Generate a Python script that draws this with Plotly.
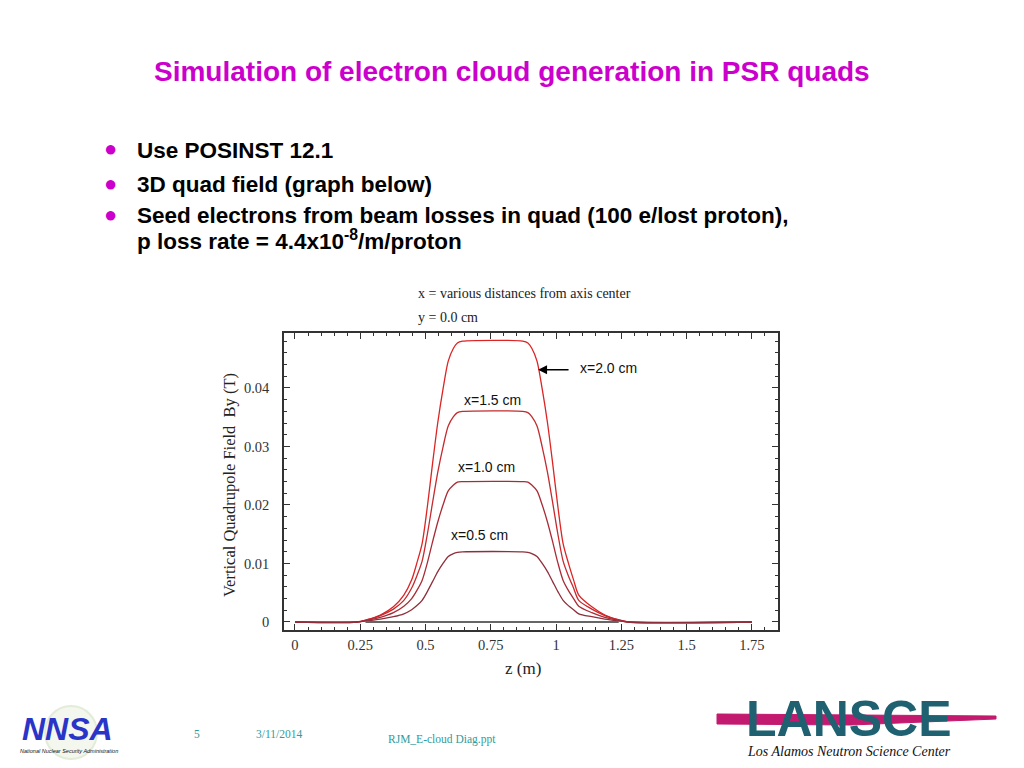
import plotly.graph_objects as go

# ---------------- data ----------------
z = [0.0, 0.237, 0.277, 0.327, 0.377, 0.417, 0.447, 0.467, 0.487, 0.507, 0.527,
     0.547, 0.567, 0.587, 0.607, 0.622, 0.642,
     0.872, 0.892, 0.907, 0.927, 0.947, 0.967, 0.987, 1.007, 1.027, 1.047,
     1.067, 1.087, 1.137, 1.187, 1.237, 1.277, 1.75]

by_x20 = [0.0, 0.0, 0.0004, 0.0012, 0.0026, 0.0046, 0.0072, 0.0101, 0.0134, 0.0197, 0.0271,
          0.0341, 0.0398, 0.0446, 0.0468, 0.0477, 0.0480,
          0.0480, 0.0477, 0.0468, 0.0446, 0.0398, 0.0341, 0.0271, 0.0197, 0.0134, 0.0101,
          0.0072, 0.0046, 0.0026, 0.0012, 0.0004, 0.0, 0.0]
by_x15 = [0.0, 0.0, 0.0004, 0.0011, 0.0022, 0.0037, 0.0058, 0.0079, 0.0104, 0.0150, 0.0204,
          0.0256, 0.0299, 0.0335, 0.0351, 0.0358, 0.0360,
          0.0360, 0.0358, 0.0351, 0.0335, 0.0299, 0.0256, 0.0204, 0.0150, 0.0104, 0.0079,
          0.0058, 0.0037, 0.0022, 0.0011, 0.0004, 0.0, 0.0]
by_x10 = [0.0, 0.0, 0.0003, 0.0008, 0.0016, 0.0027, 0.0040, 0.0054, 0.0071, 0.0101, 0.0137,
          0.0171, 0.0200, 0.0224, 0.0234, 0.0239, 0.0240,
          0.0240, 0.0239, 0.0234, 0.0224, 0.0200, 0.0171, 0.0137, 0.0101, 0.0071, 0.0054,
          0.0040, 0.0027, 0.0016, 0.0008, 0.0003, 0.0, 0.0]
by_x05 = [0.0, 0.0, 0.0002, 0.0005, 0.0009, 0.0014, 0.0021, 0.0028, 0.0037, 0.0052, 0.0069,
          0.0086, 0.0100, 0.0112, 0.0117, 0.0119, 0.0120,
          0.0120, 0.0119, 0.0117, 0.0112, 0.0100, 0.0086, 0.0069, 0.0052, 0.0037, 0.0028,
          0.0021, 0.0014, 0.0009, 0.0005, 0.0002, 0.0, 0.0]

series_names = ["x=2.0 cm", "x=1.5 cm", "x=1.0 cm", "x=0.5 cm"]
series_vals = [by_x20, by_x15, by_x10, by_x05]
series_colors = ["#dc2424", "#c42a2e", "#a82c36", "#8e2f3c"]

x_ticks = [0, 0.25, 0.5, 0.75, 1, 1.25, 1.5, 1.75]
x_tick_text = ["0", "0.25", "0.5", "0.75", "1", "1.25", "1.5", "1.75"]
y_ticks = [0, 0.01, 0.02, 0.03, 0.04]
y_tick_text = ["0", "0.01", "0.02", "0.03", "0.04"]

# label positions in data coords (z, By)
label_pos = {"x=2.0 cm": (1.20, 0.0434), "x=1.5 cm": (0.758, 0.0380),
             "x=1.0 cm": (0.735, 0.0265), "x=0.5 cm": (0.705, 0.0149)}

# ---------------- layout geometry (screen pixels) ----------------
L, R, T, B = 283, 777, 332, 629
W, H = R - L, B - T
OFF = 7  # page body offset of the figure


def px(x):
    return (x - L) / W


def py(y):
    return (B - y) / H


SERIF = "Liberation Serif, Times New Roman, serif"
SANS = "Liberation Sans, Arial, sans-serif"
MAG = "#cc00cc"
TEAL = "#2f9c9c"

fig = go.Figure()
for name, vals, col in zip(series_names, series_vals, series_colors):
    fig.add_trace(go.Scatter(x=z, y=vals, mode="lines", name=name,
                             line=dict(color=col, width=1.3, shape="spline", smoothing=0.8),
                             showlegend=False))

ann = []


def txt(x, y, text, font, xanchor="center", **kw):
    ann.append(dict(x=px(x), y=py(y), xref="paper", yref="paper", showarrow=False,
                    xanchor=xanchor, yanchor="middle", text=text, font=font, **kw))


# title
txt(511, 71, "<b>Simulation of electron cloud generation in PSR quads</b>",
    dict(family=SANS, size=28, color=MAG))
# bullets
bul = [(149, "<b>Use POSINST 12.1</b>", True),
       (183, "<b>3D quad field (graph below)</b>", True),
       (214, "<b>Seed electrons from beam losses in quad (100 e/lost proton),</b>", True),
       (239, "<b>p loss rate = 4.4x10<sup>-8</sup>/m/proton</b>", False)]
for yy, t, dot in bul:
    if dot:
        txt(109, yy - 1, "●", dict(family=SANS, size=22, color=MAG))
    txt(134, yy, t, dict(family=SANS, size=22.5, color="#000000"), xanchor="left")
# chart header text
txt(415, 292, "x = various distances from axis center",
    dict(family=SERIF, size=14, color="#222222"), xanchor="left")
txt(415, 316, "y = 0.0 cm", dict(family=SERIF, size=14, color="#222222"), xanchor="left")
# axis titles
txt(228, 484, "Vertical Quadrupole Field  By (T)",
    dict(family=SERIF, size=16.5, color="#222222"), textangle=-90)
txt(522, 667, "z (m)", dict(family=SERIF, size=17, color="#222222"))
# curve labels
for name in series_names:
    zx, zy = label_pos[name]
    ann.append(dict(x=zx, y=zy, xref="x", yref="y", showarrow=False, text=name,
                    xanchor="center", yanchor="middle",
                    font=dict(family=SANS, size=14, color="#111111")))
# arrow to x=2.0 curve
ann.append(dict(x=0.931, y=0.0431, xref="x", yref="y", ax=32, ay=0, showarrow=True,
                arrowhead=2, arrowsize=1.2, arrowwidth=1.5, arrowcolor="#000000", text=""))
# footer
txt(196, 733, "5", dict(family=SERIF, size=11.5, color=TEAL))
txt(278, 733, "3/11/2014", dict(family=SERIF, size=11.5, color=TEAL))
txt(441, 738, "RJM_E-cloud Diag.ppt", dict(family=SERIF, size=11.5, color=TEAL))
# LANSCE logo
txt(848, 718, "<b>LANSCE</b>", dict(family=SANS, size=50, color="#1f6170"))
txt(848, 750, "<i>Los Alamos Neutron Science Center</i>",
    dict(family=SERIF, size=14, color="#111111"))
# NNSA logo
txt(66, 728, "<b><i>NNSA</i></b>", dict(family=SANS, size=32, color="#2a35c8"))
txt(68, 750, "<i>National Nuclear Security Administration</i>",
    dict(family=SANS, size=5.5, color="#111111"))

shapes = []
# zero line (gray) over the middle part
shapes.append(dict(type="line", xref="x", yref="y", x0=0.27, x1=1.24, y0=0, y1=0,
                   line=dict(color="#666666", width=2), layer="above"))
# NNSA faint seal
shapes.append(dict(type="circle", xref="paper", yref="paper",
                   x0=px(44), x1=px(96), y0=py(758), y1=py(705),
                   line=dict(color="#e3ecd8", width=2), fillcolor="#f3f7ee", layer="below"))
# LANSCE magenta streak
streak = ("M {a},{b} L {c},{d} L {e},{f} L {g},{h} L {i},{j} Z").format(
    a=px(716), b=py(713), c=px(995), d=py(715), e=px(995), f=py(718),
    g=px(850), h=py(724), i=px(716), j=py(723))
shapes.append(dict(type="path", xref="paper", yref="paper", path=streak,
                   fillcolor="#c21a6e", line=dict(color="#c21a6e", width=1), layer="below"))

fig.update_layout(
    width=1024, height=768,
    margin=dict(l=L - OFF, r=1024 - R + OFF, t=T - OFF, b=768 - B + OFF),
    paper_bgcolor="white", plot_bgcolor="white",
    annotations=ann, shapes=shapes, showlegend=False,
    xaxis=dict(range=[-0.042, 1.85], tickvals=x_ticks, ticktext=x_tick_text,
               ticks="inside", ticklen=6, tickcolor="#333333", mirror="ticks",
               showline=True, linecolor="#333333", linewidth=1.5, showgrid=False,
               zeroline=False, ticklabelstandoff=1,
               minor=dict(ticks="inside", dtick=0.05, ticklen=3, tickcolor="#333333",
                          showgrid=False),
               tickfont=dict(family=SERIF, size=14.5, color="#333333")),
    yaxis=dict(range=[-0.00137, 0.0494], tickvals=y_ticks, ticktext=y_tick_text,
               ticks="inside", ticklen=6, tickcolor="#333333", mirror="ticks",
               showline=True, linecolor="#333333", linewidth=1.5, showgrid=False,
               zeroline=False, ticklabelstandoff=10,
               minor=dict(ticks="inside", dtick=0.002, ticklen=3, tickcolor="#333333",
                          showgrid=False),
               tickfont=dict(family=SERIF, size=14.5, color="#333333")),
)

fig.write_html("out.html")
